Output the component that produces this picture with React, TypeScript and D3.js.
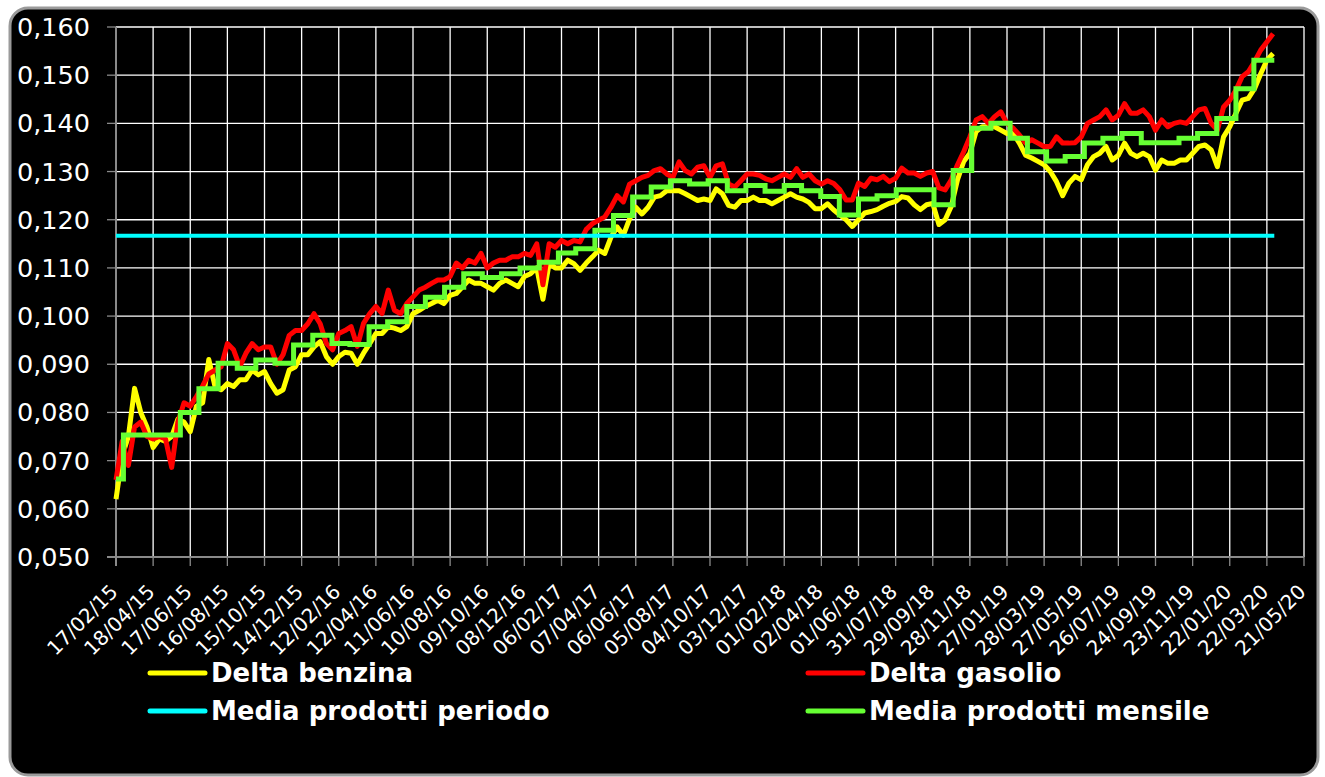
import React from 'react';
import * as d3 from 'd3';

// ---- data ----
const tickLabels = [
  '17/02/15', '18/04/15', '17/06/15', '16/08/15', '15/10/15', '14/12/15', '12/02/16', '12/04/16',
  '11/06/16', '10/08/16', '09/10/16', '08/12/16', '06/02/17', '07/04/17', '06/06/17', '05/08/17',
  '04/10/17', '03/12/17', '01/02/18', '02/04/18', '01/06/18', '31/07/18', '29/09/18', '28/11/18',
  '27/01/19', '28/03/19', '27/05/19', '26/07/19', '24/09/19', '23/11/19', '22/01/20', '22/03/20',
  '21/05/20',
];
const yTicks = [0.05, 0.06, 0.07, 0.08, 0.09, 0.1, 0.11, 0.12, 0.13, 0.14, 0.15, 0.16];

// one reading every 10 days from 17/02/15
const sampleStepDays = 10;

const deltaBenzina = [
  0.062, 0.071, 0.075, 0.085, 0.080, 0.077, 0.0727, 0.0745, 0.074, 0.075,
  0.0786, 0.078, 0.076, 0.0813, 0.082, 0.091, 0.0854, 0.0847, 0.086, 0.0854,
  0.0868, 0.0868, 0.0888, 0.0878, 0.0885, 0.086, 0.084, 0.0847, 0.0888, 0.0895,
  0.092, 0.092, 0.0936, 0.0947, 0.0916, 0.090, 0.0916, 0.0925, 0.0923, 0.090,
  0.0923, 0.0943, 0.0964, 0.0964, 0.0978, 0.0975, 0.097, 0.0978, 0.1005, 0.1012,
  0.102, 0.1026, 0.1033, 0.1026, 0.1043, 0.1047, 0.1061, 0.1075, 0.1068, 0.1068,
  0.1061, 0.1054, 0.1068, 0.1075, 0.1068, 0.1061, 0.1082, 0.1088, 0.110, 0.1035,
  0.1109, 0.110, 0.110, 0.1116, 0.1109, 0.1095, 0.111, 0.1123, 0.1137, 0.113,
  0.1164, 0.1185, 0.1168, 0.1202, 0.1226, 0.1212, 0.1226, 0.1247, 0.125, 0.126,
  0.126, 0.126, 0.1254, 0.1247, 0.124, 0.1243, 0.124, 0.1264, 0.1254, 0.123,
  0.1226, 0.124, 0.124, 0.1247, 0.124, 0.124, 0.1233, 0.124, 0.1247, 0.1254,
  0.1247, 0.1243, 0.1236, 0.1223, 0.1223, 0.1233, 0.122, 0.121, 0.120, 0.1186,
  0.120, 0.1214, 0.1217, 0.1221, 0.1228, 0.1234, 0.1238, 0.1248, 0.1245, 0.1231,
  0.1221, 0.1231, 0.1234, 0.119, 0.120, 0.1228, 0.1283, 0.1321, 0.1338, 0.1383,
  0.1393, 0.1393, 0.1393, 0.1386, 0.1379, 0.1379, 0.1359, 0.1334, 0.1328, 0.1321,
  0.1314, 0.130, 0.1279, 0.125, 0.1276, 0.129, 0.1283, 0.1314, 0.1331, 0.1338,
  0.1352, 0.1324, 0.1334, 0.1359, 0.1338, 0.1331, 0.1338, 0.1331, 0.1303, 0.1324,
  0.1317, 0.1317, 0.1324, 0.1324, 0.1338, 0.1352, 0.1355, 0.1345, 0.131, 0.1372,
  0.1393, 0.1421, 0.1448, 0.1452, 0.1472, 0.1503, 0.1531, 0.1545,
];

const deltaGasolio = [
  0.066, 0.074, 0.069, 0.077, 0.078, 0.075, 0.0745, 0.075, 0.0745, 0.0686,
  0.078, 0.082, 0.0813, 0.0833, 0.0855, 0.088, 0.0888, 0.0895, 0.0943, 0.093,
  0.0895, 0.0923, 0.0943, 0.093, 0.0936, 0.0936, 0.090, 0.092, 0.096, 0.097,
  0.097, 0.0984, 0.1005, 0.0984, 0.0943, 0.093, 0.0964, 0.097, 0.0978, 0.0937,
  0.0985, 0.1005, 0.102, 0.1005, 0.1054, 0.1012, 0.1005, 0.1026, 0.104, 0.1054,
  0.106, 0.1068, 0.1075, 0.1075, 0.1082, 0.111, 0.110, 0.1116, 0.111, 0.113,
  0.110, 0.111, 0.1116, 0.1116, 0.1123, 0.1123, 0.113, 0.1126, 0.115, 0.1065,
  0.115, 0.1143, 0.1157, 0.115, 0.1157, 0.1154, 0.118, 0.1192, 0.1199, 0.1206,
  0.1226, 0.125, 0.1237, 0.1274, 0.1281, 0.1288, 0.1292, 0.1302, 0.1306, 0.1295,
  0.1288, 0.132, 0.1302, 0.1295, 0.1309, 0.1312, 0.1288, 0.1312, 0.1316, 0.1274,
  0.1268, 0.1281, 0.1295, 0.1295, 0.1292, 0.1285, 0.1281, 0.1288, 0.1295, 0.1288,
  0.1306, 0.1288, 0.1295, 0.1281, 0.1274, 0.1281, 0.1275, 0.1262, 0.1241, 0.1241,
  0.1276, 0.1269, 0.1286, 0.1283, 0.129, 0.1279, 0.1286, 0.1307, 0.1297, 0.1297,
  0.129, 0.1297, 0.130, 0.1266, 0.1262, 0.1283, 0.1314, 0.1341, 0.1372, 0.1407,
  0.1414, 0.140, 0.1414, 0.1424, 0.140, 0.139, 0.1376, 0.1359, 0.1366, 0.1359,
  0.1352, 0.1352, 0.1372, 0.1359, 0.1359, 0.136, 0.1372, 0.140, 0.1407, 0.1414,
  0.1428, 0.1407, 0.1417, 0.1441, 0.1421, 0.1421, 0.1428, 0.1414, 0.1386, 0.1407,
  0.1393, 0.140, 0.1403, 0.140, 0.1414, 0.1428, 0.1431, 0.140, 0.1386, 0.1434,
  0.1448, 0.1469, 0.1497, 0.1507, 0.1528, 0.1552, 0.1569, 0.1586,
];

// monthly mean, Feb 2015 .. Mar 2020
const mediaMensile = [
  0.0662, 0.0753, 0.0753, 0.0753, 0.080, 0.0849, 0.0902, 0.0892, 0.0909, 0.0902, 0.094,
  0.096, 0.0943, 0.0941, 0.0978, 0.0988, 0.102, 0.1039, 0.106, 0.1088, 0.108, 0.1088, 0.110,
  0.1112, 0.1131, 0.114, 0.1178, 0.1209, 0.1247, 0.1268, 0.1281, 0.1274, 0.1281, 0.126, 0.1271,
  0.1259, 0.1271, 0.126, 0.1248, 0.121, 0.1243, 0.125, 0.1262, 0.1262, 0.1231, 0.1302, 0.139,
  0.140, 0.1369, 0.1341, 0.1322, 0.1331, 0.1359, 0.1369, 0.1379, 0.136, 0.136, 0.1369, 0.1379,
  0.141, 0.1472, 0.1531,
];

const mediaPeriodo = 0.1167;

const legendRows = [
  { label: 'Delta benzina', color: '#FFFF00', col: 0, row: 0 },
  { label: 'Delta gasolio', color: '#FF0000', col: 1, row: 0 },
  { label: 'Media prodotti periodo', color: '#00FFFF', col: 0, row: 1 },
  { label: 'Media prodotti mensile', color: '#66FF33', col: 1, row: 1 },
];

const COLORS = { benzina: '#FFFF00', gasolio: '#FF0000', periodo: '#00FFFF', mensile: '#66FF33' };
const FONT = "'DejaVu Sans', Verdana, sans-serif";

export default function App() {
  const W = 1325;
  const H = 777;
  const left = 116, right = 1304, top = 27, bottom = 557;

  const parse = d3.timeParse('%d/%m/%y');
  const tickDates = tickLabels.map((s) => parse(s) as Date);
  const t0 = tickDates[0];

  const x = d3.scaleTime().domain([t0, tickDates[tickDates.length - 1]]).range([left, right]);
  const y = d3.scaleLinear().domain([0.05, 0.16]).range([bottom, top]);

  const sampleDates = deltaBenzina.map((_, i) => d3.timeDay.offset(t0, i * sampleStepDays));
  const lastDate = sampleDates[sampleDates.length - 1];
  const endDate = d3.timeDay.offset(lastDate, 2);

  const benzinaPts: [Date, number][] = deltaBenzina.map((v, i) => [sampleDates[i], v]);
  const gasolioPts: [Date, number][] = deltaGasolio.map((v, i) => [sampleDates[i], v]);

  const firstMonth = d3.timeMonth.floor(t0);
  const mensilePts: [Date, number][] = mediaMensile.map((v, k) => [
    k === 0 ? t0 : d3.timeMonth.offset(firstMonth, k),
    v,
  ]);
  mensilePts.push([endDate, mediaMensile[mediaMensile.length - 1]]);

  const line = d3
    .line<[Date, number]>()
    .x((d) => x(d[0]))
    .y((d) => y(d[1]));
  const stepLine = d3
    .line<[Date, number]>()
    .x((d) => x(d[0]))
    .y((d) => y(d[1]))
    .curve(d3.curveStepAfter);

  const fmt = (v: number) => d3.format('.3f')(v).replace('.', ',');

  return (
    <svg
      width={W}
      height={H}
      style={{ position: 'absolute', left: 0, top: 0, background: '#fff' }}
      fontFamily={FONT}
    >
      <rect x={10} y={8} width={1308} height={767} rx={18} ry={18} fill="#000" stroke="#9a9a9a" strokeWidth={3} />

      {/* horizontal grid + y ticks */}
      {yTicks.map((t) => (
        <g key={'y' + t}>
          <line x1={left} x2={right} y1={y(t)} y2={y(t)} stroke="#fff" strokeWidth={1.3} />
          <line x1={left - 9} x2={left} y1={y(t)} y2={y(t)} stroke="#8a8a8a" strokeWidth={1.3} />
          <text
            x={90}
            y={y(t)}
            textAnchor="end"
            dominantBaseline="central"
            fill="#fff"
            fontSize={25.5}
          >
            {fmt(t)}
          </text>
        </g>
      ))}

      {/* vertical grid + x ticks */}
      {tickDates.map((d, i) => (
        <g key={'x' + i}>
          {i > 0 && (
            <line x1={x(d)} x2={x(d)} y1={top} y2={bottom} stroke="#fff" strokeWidth={1.3} />
          )}
          <line x1={x(d)} x2={x(d)} y1={bottom} y2={bottom + 9} stroke="#8a8a8a" strokeWidth={1.3} />
          <text
            transform={`translate(${x(d) - 2},${588}) rotate(-45)`}
            textAnchor="end"
            dominantBaseline="central"
            fill="#fff"
            fontSize={20}
          >
            {tickLabels[i]}
          </text>
        </g>
      ))}

      {/* axes */}
      <line x1={left} x2={left} y1={top} y2={bottom + 9} stroke="#8a8a8a" strokeWidth={2} />
      <line x1={left - 9} x2={right} y1={bottom} y2={bottom} stroke="#8a8a8a" strokeWidth={2} />

      {/* series */}
      <path d={line(benzinaPts) || ''} fill="none" stroke={COLORS.benzina} strokeWidth={5} strokeLinejoin="round" />
      <path d={line(gasolioPts) || ''} fill="none" stroke={COLORS.gasolio} strokeWidth={5} strokeLinejoin="round" />
      <path d={stepLine(mensilePts) || ''} fill="none" stroke={COLORS.mensile} strokeWidth={5} />
      <line
        x1={x(t0)}
        x2={x(endDate)}
        y1={y(mediaPeriodo)}
        y2={y(mediaPeriodo)}
        stroke={COLORS.periodo}
        strokeWidth={4}
      />

      {/* legend */}
      {legendRows.map((r) => {
        const lx = r.col === 0 ? 150 : 808;
        const ly = r.row === 0 ? 673 : 711;
        return (
          <g key={r.label}>
            <line x1={lx} x2={lx + 55} y1={ly} y2={ly} stroke={r.color} strokeWidth={5} strokeLinecap="round" />
            <text x={lx + 61} y={ly} dominantBaseline="central" fill="#fff" fontSize={26} fontWeight="bold">
              {r.label}
            </text>
          </g>
        );
      })}
    </svg>
  );
}
